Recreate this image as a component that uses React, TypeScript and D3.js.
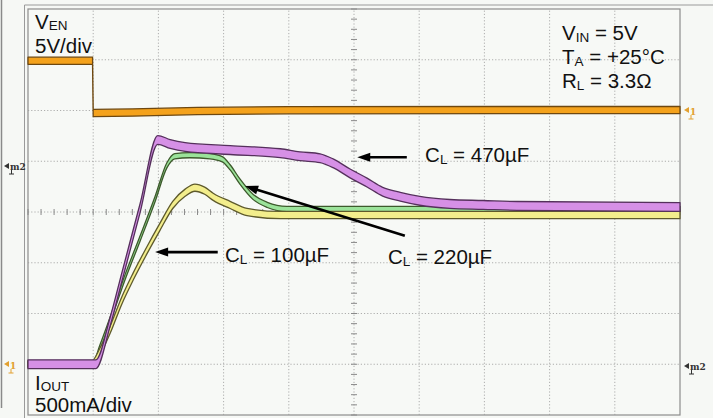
import React from 'react';
import * as d3 from 'd3';

const W = 713;
const H = 418;

// scope screen: 10 divisions across, 8 divisions high
const xDivs = d3.range(0, 11);
const yDivs = d3.range(0, 9);
const minorTicks = d3.range(0, 10.01, 0.2);
const minorTicksY = d3.range(0, 8.01, 0.2);

// channel 1: V_EN in volts (5V/div, ground at div 6)
const venTime = [0, 0.99, 1.0, 1.6, 2.6, 4.0, 10];
const venVolts = [4.9, 4.9, -0.25, -0.2, -0.05, 0.03, 0.05];

// math 2: I_OUT in amps (500mA/div, ground at div 1)
const c100Time = [0, 0.98, 1.1, 1.26, 1.44, 1.61, 1.83, 2.02, 2.22, 2.41, 2.56, 2.71, 2.84, 3.1, 3.36, 3.87, 5.71, 10];
const c100Amps = [0, 0, 0.12, 0.34, 0.63, 0.86, 1.13, 1.35, 1.57, 1.69, 1.74, 1.71, 1.65, 1.57, 1.5, 1.47, 1.47, 1.47];

const c220Time = [0, 1.0, 1.1, 1.26, 1.49, 1.72, 1.95, 2.13, 2.25, 2.48, 2.79, 2.98, 3.1, 3.25, 3.45, 3.67, 3.97, 10];
const c220Amps = [0, 0, 0.16, 0.44, 0.86, 1.24, 1.63, 1.96, 2.05, 2.06, 2.05, 2.02, 1.94, 1.8, 1.65, 1.57, 1.53, 1.53];

const c470Time = [0, 1.04, 1.26, 1.44, 1.72, 1.99, 2.18, 2.41, 3.1, 3.87, 4.17, 4.48, 4.68, 4.94, 5.2, 5.44, 5.71, 6.01, 6.47, 6.98, 7.5, 10];
const c470Amps = [0, 0, 0.42, 0.86, 1.54, 2.21, 2.17, 2.14, 2.11, 2.08, 2.05, 2.03, 1.98, 1.88, 1.79, 1.7, 1.65, 1.61, 1.58, 1.57, 1.56, 1.55];

const zip = (a: number[], b: number[]): [number, number][] => a.map((t, i) => [t, b[i]]);

const font = '"Liberation Sans", Arial, Helvetica, sans-serif';

export default function App() {
  const x = d3.scaleLinear().domain([0, 10]).range([28, 680]);
  const yDiv = d3.scaleLinear().domain([0, 8]).range([415, 9]);
  const yV = d3.scaleLinear().domain([-30, 10]).range([415, 9]);
  const yI = d3.scaleLinear().domain([-0.5, 3.5]).range([415, 9]);

  const band = (y: d3.ScaleLinear<number, number>, h: number, curve: d3.CurveFactory) =>
    d3.area<[number, number]>()
      .x(d => x(d[0]))
      .y0(d => y(d[1]) + h)
      .y1(d => y(d[1]) - h)
      .curve(curve);

  const traces = [
    { data: zip(c220Time, c220Amps), y: yI, h: 2.6, fill: '#9be39a', edge: '#3d5a2c', curve: d3.curveMonotoneX },
    { data: zip(c100Time, c100Amps), y: yI, h: 3.6, fill: '#f3ee8c', edge: '#5e5a2c', curve: d3.curveMonotoneX },
    { data: zip(c470Time, c470Amps), y: yI, h: 4.4, fill: '#d690e6', edge: '#55305c', curve: d3.curveMonotoneX },
    { data: zip(venTime, venVolts), y: yV, h: 3.6, fill: '#f4a21c', edge: '#6e4810', curve: d3.curveLinear },
  ];

  const arrows = [
    { from: [5.81, 5.08], to: [5.05, 5.08] },
    { from: [2.91, 3.21], to: [1.95, 3.21] },
    { from: [5.78, 3.53], to: [3.33, 4.51] },
  ];

  const labels = [
    { main: 'C', sub: 'L', rest: ' = 470µF', at: [6.09, 4.99] },
    { main: 'C', sub: 'L', rest: ' = 100µF', at: [3.02, 3.01] },
    { main: 'C', sub: 'L', rest: ' = 220µF', at: [5.52, 2.98] },
  ];

  const arrowHead = (fx: number, fy: number, tx: number, ty: number) => {
    const a = Math.atan2(ty - fy, tx - fx);
    const len = 13, wid = 4.5;
    const bx = tx - len * Math.cos(a), by = ty - len * Math.sin(a);
    const px = -Math.sin(a) * wid, py = Math.cos(a) * wid;
    return `M${tx},${ty}L${bx + px},${by + py}L${bx - px},${by - py}Z`;
  };

  const textStyle = { fontFamily: font, fontSize: 20.5, fill: '#111' };

  return (
    <svg width={W} height={H} style={{ position: 'absolute', left: 0, top: 0, background: '#f6f8f5' }}>
      <rect width={W} height={H} fill="#f6f8f5" />
      {/* screen frame */}
      <line x1={1.5} x2={1.5} y1={0} y2={408} stroke="#8a8a8a" strokeWidth={1.5} />
      <line x1={24.5} x2={W} y1={5} y2={5} stroke="#9a9a9a" strokeWidth={1} />
      <line x1={24.5} x2={24.5} y1={5} y2={H} stroke="#9a9a9a" strokeWidth={1} />
      <rect x={x(0)} y={yDiv(8)} width={x(10) - x(0)} height={yDiv(0) - yDiv(8)} fill="#f7f9f6" stroke="#8c8c8c" strokeWidth={1.2} />

      {/* graticule */}
      <g stroke="#9a9a9a" strokeWidth={0.8} strokeDasharray="1.2,2">
        {xDivs.slice(1, -1).map(d => (
          <line key={'gx' + d} x1={x(d)} x2={x(d)} y1={yDiv(0)} y2={yDiv(8)} />
        ))}
        {yDivs.slice(1, -1).map(d => (
          <line key={'gy' + d} x1={x(0)} x2={x(10)} y1={yDiv(d)} y2={yDiv(d)} />
        ))}
      </g>
      <g stroke="#8a8a8a" strokeWidth={1}>
        {minorTicks.map(t => (
          <line key={'mx' + t} x1={x(t)} x2={x(t)} y1={yDiv(4) - 3} y2={yDiv(4) + 3} />
        ))}
        {minorTicksY.map(t => (
          <line key={'my' + t} x1={x(5) - 3} x2={x(5) + 3} y1={yDiv(t)} y2={yDiv(t)} />
        ))}
      </g>

      {/* traces */}
      {traces.map((tr, i) => (
        <path
          key={'tr' + i}
          d={band(tr.y, tr.h, tr.curve)(tr.data) || ''}
          fill={tr.fill}
          stroke={tr.edge}
          strokeWidth={1.3}
          strokeLinejoin="round"
        />
      ))}

      {/* arrows */}
      {arrows.map((a, i) => {
        const fx = x(a.from[0]), fy = yDiv(a.from[1]);
        const tx = x(a.to[0]), ty = yDiv(a.to[1]);
        const ang = Math.atan2(ty - fy, tx - fx);
        return (
          <g key={'ar' + i}>
            <line x1={fx} y1={fy} x2={tx - 10 * Math.cos(ang)} y2={ty - 10 * Math.sin(ang)} stroke="#000" strokeWidth={2.6} />
            <path d={arrowHead(fx, fy, tx, ty)} fill="#000" />
          </g>
        );
      })}

      {labels.map((l, i) => (
        <text key={'lb' + i} x={x(l.at[0])} y={yDiv(l.at[1])} style={textStyle}>
          {l.main}
          <tspan fontSize={13.5} dy={2}>{l.sub}</tspan>
          <tspan dy={-2}>{l.rest}</tspan>
        </text>
      ))}

      {/* channel captions */}
      <text x={35} y={29} style={textStyle}>
        V<tspan fontSize={13.5} dy={1}>EN</tspan>
      </text>
      <text x={35} y={53} style={textStyle}>5V/div</text>
      <text x={35} y={390} style={textStyle}>
        I<tspan fontSize={13.5} dy={1}>OUT</tspan>
      </text>
      <text x={35} y={412} style={textStyle}>500mA/div</text>

      <text x={562} y={40} style={textStyle}>
        V<tspan fontSize={13.5} dy={2}>IN</tspan><tspan dy={-2}> = 5V</tspan>
      </text>
      <text x={562} y={64} style={textStyle}>
        T<tspan fontSize={13.5} dy={2}>A</tspan><tspan dy={-2}> = +25°C</tspan>
      </text>
      <text x={562} y={88} style={textStyle}>
        R<tspan fontSize={13.5} dy={2}>L</tspan><tspan dy={-2}> = 3.3Ω</tspan>
      </text>

      {/* reference markers */}
      <g fontFamily='"DejaVu Serif", serif' fontSize={9} fontWeight="bold">
        <g fill="#333" stroke="none">
          <path d="M4,166 l5,-3 v6 Z" />
          <text x={10} y={170}>m2</text>
          <line x1={11.5} x2={11.5} y1={170} y2={174} stroke="#333" />
          <line x1={9} x2={14} y1={174} y2={174} stroke="#333" />
        </g>
        <g fill="#e2a030">
          <path d="M4,364 l5,-3 v6 Z" />
          <text x={10} y={369}>1</text>
          <line x1={11} x2={11} y1={369} y2={373} stroke="#e2a030" />
          <line x1={8.5} x2={13.5} y1={373} y2={373} stroke="#e2a030" />
        </g>
        <g fill="#e2a030">
          <path d="M684,110 l5,-3 v6 Z" />
          <text x={690} y={115}>1</text>
          <line x1={691} x2={691} y1={115} y2={119} stroke="#e2a030" />
          <line x1={688.5} x2={693.5} y1={119} y2={119} stroke="#e2a030" />
        </g>
        <g fill="#333">
          <path d="M684,366 l5,-3 v6 Z" />
          <text x={690} y={370}>m2</text>
          <line x1={691.5} x2={691.5} y1={370} y2={374} stroke="#333" />
          <line x1={689} x2={694} y1={374} y2={374} stroke="#333" />
        </g>
      </g>
    </svg>
  );
}
